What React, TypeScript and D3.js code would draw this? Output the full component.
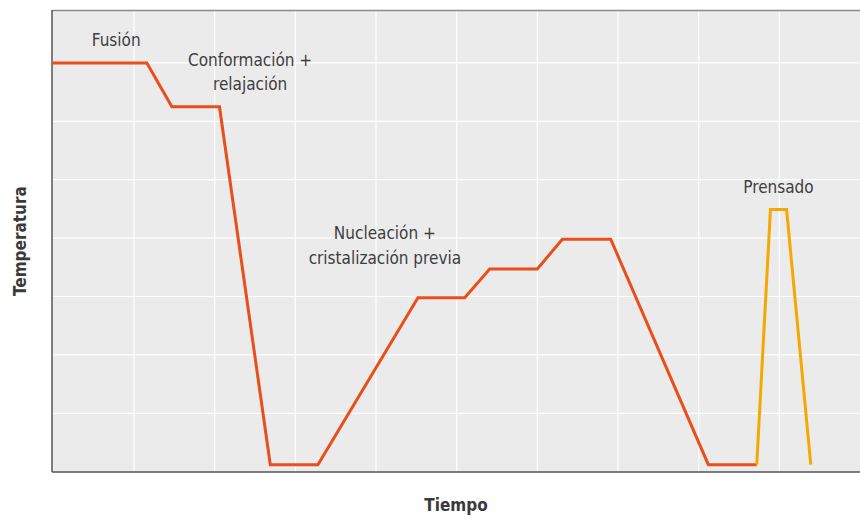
import * as d3 from 'd3';
import React from 'react';

// main process curve (time, temperature) in arbitrary units
const processTimes = [-0.02, 1.16, 1.47, 2.06, 2.69, 3.28, 4.52, 5.1, 5.41, 6.0, 6.31, 6.91, 8.12, 8.72];
const processTemps = [7.0, 7.0, 6.25, 6.25, 0.12, 0.12, 2.98, 2.98, 3.47, 3.47, 3.98, 3.98, 0.12, 0.12];

// pressing step
const pressTimes = [8.72, 8.89, 9.09, 9.39];
const pressTemps = [0.12, 4.49, 4.49, 0.12];

const xTicks = [1, 2, 3, 4, 5, 6, 7, 8, 9];
const yTicks = [1, 2, 3, 4, 5, 6, 7];

const stageLabels = [
    { lines: ['Fusión'], t: 0.78, temp: 7.29 },
    { lines: ['Conformación +', 'relajación'], t: 2.44, temp: 6.95 },
    { lines: ['Nucleación +', 'cristalización previa'], t: 4.11, temp: 3.98 },
    { lines: ['Prensado'], t: 8.99, temp: 4.77 },
];

const xTitle = 'Tiempo';
const yTitle = 'Temperatura';

const W = 860;
const H = 518;
const panel = { left: 52, top: 10, right: 860, bottom: 472 };

const font = "'Liberation Sans Narrow', 'DejaVu Sans Condensed', 'Roboto', sans-serif";

export default function App() {
    const x = d3.scaleLinear().domain([0, 10]).range([53.3, 860]);
    const y = d3.scaleLinear().domain([0, 8]).range([471.7, 4.5]);

    const line = d3.line<[number, number]>()
        .x(d => x(d[0]))
        .y(d => y(d[1]));

    const processPts = processTimes.map((t, i) => [t, processTemps[i]] as [number, number]);
    const pressPts = pressTimes.map((t, i) => [t, pressTemps[i]] as [number, number]);

    return (
        <svg width={W} height={H} style={{ position: 'absolute', left: 0, top: 0 }}>
            <rect x={panel.left} y={panel.top}
                  width={panel.right - panel.left} height={panel.bottom - panel.top}
                  fill="#ebebeb" />
            {xTicks.map(t => (
                <line key={'gx' + t} x1={x(t)} x2={x(t)} y1={panel.top} y2={panel.bottom}
                      stroke="#ffffff" strokeWidth={1.2} />
            ))}
            {yTicks.map(t => (
                <line key={'gy' + t} x1={panel.left} x2={panel.right} y1={y(t)} y2={y(t)}
                      stroke="#ffffff" strokeWidth={1.2} />
            ))}
            {/* frame */}
            <line x1={panel.left} x2={panel.right} y1={panel.top + 0.5} y2={panel.top + 0.5}
                  stroke="#8a8a8a" strokeWidth={1.5} />
            <line x1={panel.left} x2={panel.right} y1={panel.bottom} y2={panel.bottom}
                  stroke="#555555" strokeWidth={1.5} />
            <line x1={panel.left} x2={panel.left} y1={panel.top} y2={panel.bottom}
                  stroke="#555555" strokeWidth={1.5} />

            <path d={line(processPts) || ''} fill="none" stroke="#e94e1b" strokeWidth={3}
                  strokeLinejoin="miter" />
            <path d={line(pressPts) || ''} fill="none" stroke="#f6a800" strokeWidth={3}
                  strokeLinejoin="miter" />

            {stageLabels.map((l, i) => (
                <text key={i} x={x(l.t)} y={y(l.temp)} textAnchor="middle"
                      fontFamily={font} fontSize={17} fill="#3e3e3e" style={{ fontStretch: 'condensed' }}>
                    {l.lines.map((s, j) => (
                        <tspan key={j} x={x(l.t)} dy={j === 0 ? 0 : 24.5}>{s}</tspan>
                    ))}
                </text>
            ))}

            <text x={(panel.left + panel.right) / 2} y={511} textAnchor="middle"
                  fontFamily={font} fontSize={17} fontWeight="bold" fill="#3a3a3a"
                  style={{ fontStretch: 'condensed' }}>{xTitle}</text>
            <text transform={`translate(26,${(panel.top + panel.bottom) / 2}) rotate(-90)`}
                  textAnchor="middle" fontFamily={font} fontSize={17} fontWeight="bold" fill="#3a3a3a"
                  style={{ fontStretch: 'condensed' }}>{yTitle}</text>
        </svg>
    );
}
